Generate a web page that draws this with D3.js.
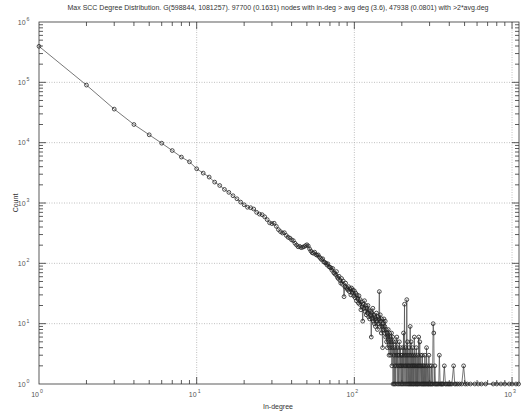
<!DOCTYPE html>
<html>
<head>
<meta charset="utf-8">
<script src="https://cdn.jsdelivr.net/npm/d3@7"></script>
<style>
  html, body { margin: 0; padding: 0; background: #fff; }
  svg { display: block; font-family: "Liberation Sans", Arial, sans-serif; }
</style>
</head>
<body>
<svg id="chart" width="522" height="414"></svg>
<script>
// In-degree counts for degrees 1..175 (index 0 = degree 1)
const headCounts = [
  395000, 90000, 36000, 20000, 13500, 9800, 7400, 5770, 4820, 3690,
  3130, 2690, 2220, 1950, 1680, 1500, 1320, 1175, 1035, 935,
  850, 835, 795, 700, 655, 640, 590, 530, 470, 455,
  462, 410, 362, 335, 318, 322, 290, 270, 262, 245,
  238, 215, 201, 188, 191, 182, 185, 189, 196, 203,
  194, 174, 160, 150, 147, 153, 140, 136, 138, 127,
  121, 115, 119, 106, 103, 101, 94, 98, 88, 86,
  84, 77, 82, 70, 68, 65, 73, 59, 56, 61,
  52, 47, 56, 45, 51, 28, 41, 47, 40, 38,
  36, 41, 34, 38, 30, 39, 33, 36, 29, 35,
  27, 32, 24, 30, 26, 22, 29, 21, 25, 17,
  23, 19, 11, 21, 18, 24, 16, 20, 14, 18,
  15, 20, 13, 17, 12, 16, 14, 6, 15, 12,
  18, 11, 14, 10, 13, 9, 12, 15, 11, 8,
  13, 10, 12, 34, 9, 14, 11, 7, 12, 9,
  4, 10, 8, 12, 7, 9, 11, 6, 8, 5,
  7, 4, 6, 8, 5, 3, 7, 4, 6, 3,
  5, 7, 2, 4, 6
];

// Sparse tail: degrees above 175 that occur, with their counts
const tailDegrees = [
  176, 177, 178, 179, 180, 181, 182, 183, 184, 185, 186, 187, 188, 189, 190,
  191, 192, 193, 194, 195, 196, 197, 198, 199, 200, 201, 202, 203, 204, 205,
  206, 207, 208, 209, 210, 211, 212, 213, 214, 215, 216, 217, 218, 219, 220,
  221, 222, 223, 224, 225, 226, 227, 228, 229, 230, 231, 232, 233, 234, 235,
  236, 237, 238, 239, 240, 241, 242, 244, 245, 246, 247, 248, 250, 251, 252,
  253, 255, 256, 257, 258, 260, 261, 263, 264, 266, 267, 269, 270, 272, 273,
  275, 277, 278, 280, 282, 284, 285, 287, 289, 291, 293, 295, 297, 299, 301,
  303, 306, 308, 310, 313, 316, 319, 321, 324, 327, 330, 334, 338, 343, 346,
  350, 355, 358, 362, 366, 372, 378, 383, 390, 396, 401, 408, 415, 426, 433,
  441, 452, 465, 480, 493, 505, 520, 545, 580, 610, 640, 680, 760, 800, 850,
  900, 960, 1000, 1060, 1100
];
const tailCounts = [
  1, 5, 3, 1, 4, 2, 1, 5, 3, 2, 6, 1, 4, 3, 2,
  1, 3, 5, 2, 1, 4, 2, 3, 1, 2, 3, 1, 4, 2, 7,
  1, 3, 21, 2, 1, 4, 2, 3, 1, 25, 2, 5, 1, 3, 2,
  1, 4, 2, 1, 3, 9, 1, 2, 5, 1, 3, 2, 1, 4, 2,
  1, 3, 1, 2, 6, 2, 1, 3, 1, 2, 4, 1, 2, 1, 3,
  1, 2, 6, 1, 2, 5, 1, 2, 3, 1, 2, 1, 3, 1, 2,
  1, 2, 1, 3, 1, 2, 1, 4, 1, 2, 1, 1, 3, 1, 2,
  1, 1, 2, 1, 1, 10, 7, 1, 2, 1, 1, 1, 1, 1, 3,
  1, 1, 1, 1, 1, 2, 1, 1, 1, 1, 1, 1, 1, 2, 1,
  1, 1, 1, 1, 2, 1, 1, 1, 1, 1, 1, 1, 1, 1, 1,
  1, 1, 1, 1, 1
];

const xTicks = [1, 10, 100, 1000];
const yTicks = [1, 10, 100, 1000, 10000, 100000, 1000000];

const titleText = "Max SCC Degree Distribution. G(598844, 1081257). 97700 (0.1631) nodes with in-deg > avg deg (3.6), 47938 (0.0801) with >2*avg.deg";
const xLabel = "In-degree";
const yLabel = "Count";

const points = headCounts.map((c, i) => ({ deg: i + 1, count: c }))
  .concat(tailDegrees.map((d, i) => ({ deg: d, count: tailCounts[i] })));

const plotL = 39, plotR = 519, plotT = 22, plotB = 384;

const x = d3.scaleLog().domain([1, 1107]).range([plotL, plotR]);
const y = d3.scaleLog().domain([1, 1e6]).range([plotB, plotT]);

const svg = d3.select("#chart");

// minor tick values (2..9 per decade) inside the domains
function minors(domain) {
  const out = [];
  for (let p = 1; p <= domain[1]; p *= 10) {
    for (let k = 2; k <= 9; k++) {
      const v = k * p;
      if (v > domain[0] && v < domain[1]) out.push(v);
    }
  }
  return out;
}

// dotted grid at decades
const grid = svg.append("g").attr("stroke", "#b0b0b0").attr("stroke-width", 0.8)
  .attr("stroke-dasharray", "1,1.5");
grid.selectAll("line.gx").data(xTicks.slice(1)).join("line")
  .attr("x1", d => x(d)).attr("x2", d => x(d)).attr("y1", plotT).attr("y2", plotB);
grid.selectAll("line.gy").data(yTicks.slice(1, -1)).join("line")
  .attr("y1", d => y(d)).attr("y2", d => y(d)).attr("x1", plotL).attr("x2", plotR);

// series line and markers
const line = d3.line().x(d => x(d.deg)).y(d => y(d.count));
svg.append("path").datum(points)
  .attr("d", line).attr("fill", "none").attr("stroke", "#555").attr("stroke-width", 0.8);
svg.append("g").selectAll("circle").data(points).join("circle")
  .attr("cx", d => x(d.deg)).attr("cy", d => y(d.count)).attr("r", 1.9)
  .attr("fill", "none").attr("stroke", "#222").attr("stroke-width", 0.8);

// frame and ticks, mirrored on all four sides
const axisColor = "#333";
const axG = svg.append("g").attr("stroke", axisColor).attr("stroke-width", 0.8);
const xMinor = minors(x.domain()), yMinor = minors(y.domain());
const majLen = 7, minLen = 4;
[[plotB, -1], [plotT, 1]].forEach(([yy, dir]) => {
  axG.append("g").selectAll("line").data(xTicks.slice(1).filter(v => x(v) < plotR - 2)).join("line")
    .attr("x1", d => x(d)).attr("x2", d => x(d)).attr("y1", yy).attr("y2", yy + dir * majLen);
  axG.append("g").selectAll("line").data(xMinor).join("line")
    .attr("x1", d => x(d)).attr("x2", d => x(d)).attr("y1", yy).attr("y2", yy + dir * minLen);
});
[[plotL, 1], [plotR, -1]].forEach(([xx, dir]) => {
  axG.append("g").selectAll("line").data(yTicks.slice(1, -1)).join("line")
    .attr("y1", d => y(d)).attr("y2", d => y(d)).attr("x1", xx).attr("x2", xx + dir * majLen);
  axG.append("g").selectAll("line").data(yMinor).join("line")
    .attr("y1", d => y(d)).attr("y2", d => y(d)).attr("x1", xx).attr("x2", xx + dir * minLen);
});
svg.append("rect").attr("x", plotL).attr("y", plotT).attr("width", plotR - plotL).attr("height", plotB - plotT)
  .attr("fill", "none").attr("stroke", axisColor).attr("stroke-width", 0.8);

// tick labels written as 10 with a raised exponent
const labColor = "#555";
function powerLabel(sel, v) {
  const e = Math.round(Math.log10(v));
  sel.append("tspan").text("10");
  sel.append("tspan").attr("dy", -3.5).attr("font-size", 5.2).attr("dx", 1).text(e);
}
svg.append("g").selectAll("text").data(xTicks).join("text")
  .attr("x", d => x(d) - 2).attr("y", plotB + 12.5).attr("text-anchor", "middle")
  .attr("font-size", 7).attr("fill", labColor)
  .each(function (d) { powerLabel(d3.select(this), d); });
svg.append("g").selectAll("text").data(yTicks).join("text")
  .attr("x", 29.5).attr("y", d => y(d) + 2.5).attr("text-anchor", "end")
  .attr("font-size", 7).attr("fill", labColor)
  .each(function (d) { powerLabel(d3.select(this), d); });

// title and axis titles
svg.append("text").attr("x", 278).attr("y", 10).attr("text-anchor", "middle")
  .attr("font-size", 7).attr("fill", "#333").text(titleText);
svg.append("text").attr("x", 278).attr("y", 408.5).attr("text-anchor", "middle")
  .attr("font-size", 7).attr("fill", "#333").text(xLabel);
svg.append("text").attr("transform", "translate(17.5,203) rotate(-90)").attr("text-anchor", "middle")
  .attr("font-size", 7).attr("fill", "#333").text(yLabel);
</script>
</body>
</html>
